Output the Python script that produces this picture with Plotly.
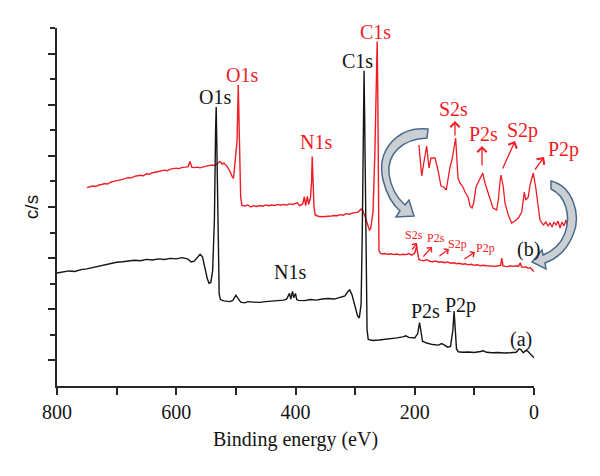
import plotly.graph_objects as go

# ---------------- data ----------------
# (a) black survey spectrum: binding energy (eV) and intensity (arb. units)
a_ev = [800, 790, 780, 770, 760, 750, 740, 730, 720, 710, 700, 690, 680, 670, 660, 650, 640, 630,
        620, 610, 600, 590, 580, 575, 570, 565, 560, 556, 552, 548, 545, 542, 539, 536, 534, 533,
        532, 530, 528, 526, 520, 510, 505, 500, 497, 492, 485, 480, 470, 460, 450, 440, 430, 420,
        415, 410, 408, 405, 403, 400, 398, 395, 385, 375, 365, 355, 345, 335, 325, 317, 312, 309,
        305, 300, 296, 293, 290, 288, 286, 285, 284, 282, 280, 278, 270, 260, 250, 240, 230, 220,
        215, 210, 200, 195, 192, 190, 187, 180, 170, 160, 155, 150, 145, 140, 136, 134, 132, 130,
        127, 120, 110, 100, 90, 85, 80, 70, 60, 50, 40, 30, 25, 22, 18, 13, 10, 5, 0]
a_int = [4.42, 4.45, 4.50, 4.48, 4.55, 4.58, 4.63, 4.68, 4.72, 4.80, 4.84, 4.86, 4.88, 4.92, 4.90,
         4.95, 4.93, 4.97, 4.95, 4.99, 4.97, 5.02, 4.96, 4.85, 4.88, 5.00, 5.15, 5.05, 4.60, 4.20,
         4.02, 4.05, 4.50, 6.50, 10.0, 10.91, 9.50, 6.00, 3.60, 3.38, 3.33, 3.30, 3.35, 3.55, 3.45,
         3.28, 3.25, 3.30, 3.28, 3.27, 3.30, 3.31, 3.34, 3.36, 3.40, 3.62, 3.40, 3.70, 3.45, 3.62,
         3.38, 3.35, 3.34, 3.38, 3.36, 3.40, 3.42, 3.40, 3.45, 3.52, 3.70, 3.76, 3.55, 3.10, 2.75,
         2.66, 3.20, 6.00, 10.5, 12.33, 10.5, 5.00, 2.20, 1.82, 1.78, 1.80, 1.82, 1.84, 1.88, 1.92,
         1.96, 1.90, 1.88, 2.05, 2.48, 2.20, 1.75, 1.68, 1.62, 1.60, 1.66, 1.60, 1.52, 1.55, 2.20,
         2.93, 2.20, 1.45, 1.34, 1.32, 1.33, 1.31, 1.35, 1.38, 1.32, 1.30, 1.31, 1.29, 1.30, 1.32,
         1.45, 1.42, 1.30, 1.40, 1.35, 1.22, 1.10]

# (b) red survey spectrum
b_ev = [750, 745, 740, 735, 730, 725, 720, 715, 710, 705, 700, 695, 690, 685, 680, 675, 670, 665,
        660, 655, 650, 645, 640, 635, 630, 625, 620, 615, 610, 605, 600, 595, 590, 585, 580, 577,
        574, 570, 565, 560, 555, 550, 545, 540, 535, 530, 527, 523, 520, 515, 510, 506, 504, 502,
        500, 498, 496, 494, 492, 490, 485, 480, 475, 470, 465, 460, 455, 450, 445, 440, 435, 430,
        425, 420, 415, 410, 405, 400, 397, 393, 388, 385, 383, 380, 378, 375, 373, 372, 371, 369,
        367, 362, 355, 350, 345, 340, 335, 330, 325, 320, 315, 310, 305, 300, 295, 290, 287, 283,
        279, 276, 274, 270, 267, 264, 263, 262, 261, 260, 258, 255, 250, 245, 240, 235, 230, 225,
        220, 215, 210, 205, 200, 197, 195, 193, 190, 185, 180, 175, 170, 165, 160, 155, 150, 145,
        140, 135, 130, 125, 120, 115, 110, 105, 100, 95, 90, 85, 80, 75, 70, 65, 60, 56, 54, 52,
        48, 44, 40, 35, 30, 26, 23, 21, 18, 14, 10, 6, 3, 0]
b_int = [7.76, 7.78, 7.82, 7.80, 7.86, 7.88, 7.92, 7.90, 7.97, 8.00, 8.02, 8.06, 8.08, 8.12, 8.15,
         8.14, 8.20, 8.22, 8.24, 8.22, 8.30, 8.28, 8.34, 8.36, 8.38, 8.42, 8.44, 8.42, 8.48, 8.50,
         8.52, 8.50, 8.55, 8.56, 8.58, 8.78, 8.56, 8.54, 8.56, 8.53, 8.58, 8.60, 8.62, 8.64, 8.62,
         8.70, 8.78, 8.68, 8.72, 8.60, 8.40, 8.18, 8.12, 8.60, 9.15, 9.60, 11.77, 9.50, 7.40, 7.06,
         7.04, 7.08, 7.00, 7.05, 7.02, 7.06, 7.03, 7.08, 7.05, 7.08, 7.06, 7.10, 7.07, 7.10, 7.08,
         7.12, 7.10, 7.14, 7.16, 7.05, 7.12, 7.40, 7.05, 7.42, 7.10, 7.35, 8.00, 8.97, 8.20, 7.00,
         6.69, 6.64, 6.62, 6.64, 6.63, 6.65, 6.67, 6.66, 6.70, 6.68, 6.74, 6.72, 6.76, 6.78, 6.80,
         6.92, 6.85, 6.60, 6.30, 6.10, 6.15, 6.80, 9.00, 12.5, 13.47, 11.5, 7.50, 5.30, 5.20, 5.16,
         5.18, 5.15, 5.17, 5.14, 5.16, 5.13, 5.15, 5.14, 5.18, 5.12, 5.20, 5.45, 5.20, 4.95, 4.92,
         4.90, 4.94, 4.88, 4.86, 4.89, 4.84, 4.86, 4.82, 4.85, 4.80, 4.82, 4.78, 4.80, 4.76, 4.78,
         4.74, 4.76, 4.72, 4.74, 4.70, 4.72, 4.70, 4.69, 4.70, 4.68, 4.70, 4.72, 5.00, 4.70, 4.68,
         4.67, 4.70, 4.68, 4.70, 4.68, 4.82, 4.66, 4.64, 4.66, 4.60, 4.62, 4.55, 4.48]

# (b) magnified inset of the 280-80 eV region
inset_ev = [271.1, 267.8, 264.7, 261.8, 259.0, 256.6, 251.8, 248.2, 244.6, 241.3, 238.2, 236.1,
            233.7, 231.3, 226.9, 224.1, 221.7, 218.1, 215.7, 212.0, 209.6, 207.2, 205.2, 202.4,
            198.8, 194.3, 191.6, 188.3, 184.3, 181.9, 177.5, 175.5, 173.5, 172.3, 169.5, 167.5,
            163.5, 159.4, 155.4, 151.4, 147.3, 145.8, 144.2, 142.5, 139.4, 137.3, 133.4, 130.5,
            127.3, 125.3, 121.3, 118.1, 115.7, 113.3, 110.8, 108.4, 106.0, 103.6, 101.2, 98.8,
            96.4, 94.0, 91.6, 89.2, 86.7, 83.1]
inset_int = [85, 54, 70, 84, 62, 72, 72, 60, 44, 43, 40, 52, 63, 70, 92, 52, 47, 43, 38, 33, 24,
             22, 27, 43, 50, 57, 47, 38, 27, 22, 20, 30, 48, 55, 43, 27, 15, 7, 9, 12, 18, 30, 38,
             30, 33, 45, 57, 43, 24, 10, 5, 8, 4, 7, 3, 8, 5, 9, 2, 8, 4, 10, 1, 8, 5, 8.5]

x_tick_vals = [800, 600, 400, 200, 0]
x_tick_text = ["800", "600", "400", "200", "0"]

# ---------------- styling ----------------
W, H = 600, 476
ML, MR, MT, MB = 57, 10, 28, 90
PW, PH = W - ML - MR, H - MT - MB
RED = "#ee1c24"
BLK = "#141414"
AX = "#262626"
SERIF = "Liberation Serif, Times New Roman, DejaVu Serif, serif"
SANS = "Liberation Sans, Arial, DejaVu Sans, sans-serif"


def px2paper(px, py):
    return (px - ML) / PW, (MT + PH - py) / PH


fig = go.Figure()
fig.add_trace(go.Scatter(x=b_ev, y=b_int, mode="lines", line=dict(color=RED, width=1.4),
                         xaxis="x", yaxis="y", showlegend=False, hoverinfo="skip"))
fig.add_trace(go.Scatter(x=a_ev, y=a_int, mode="lines", line=dict(color=BLK, width=1.4),
                         xaxis="x", yaxis="y", showlegend=False, hoverinfo="skip"))
fig.add_trace(go.Scatter(x=inset_ev, y=inset_int, mode="lines", line=dict(color=RED, width=1.3),
                         xaxis="x2", yaxis="y2", showlegend=False, hoverinfo="skip"))

main_right = (534 - ML) / PW
ix0, _ = px2paper(410, 0)
ix1, _ = px2paper(580, 0)
_, iy0 = px2paper(0, 230)
_, iy1 = px2paper(0, 130)

fig.update_layout(
    width=W, height=H,
    margin=dict(l=ML, r=MR, t=MT, b=MB, pad=0, autoexpand=False),
    paper_bgcolor="white", plot_bgcolor="white",
    font=dict(family=SERIF, size=20, color=BLK),
    xaxis=dict(domain=[0, main_right], range=[800, 0], showgrid=False, zeroline=False,
               automargin=False,
               showline=True, linecolor=AX, linewidth=2, ticks="outside", ticklen=7,
               tickwidth=1.5, tickcolor=AX, tickvals=x_tick_vals, ticktext=x_tick_text,
               tickfont=dict(size=20, family=SERIF, color=BLK),
               minor=dict(dtick=100, tick0=0, ticks="outside", ticklen=7, tickwidth=1.5,
                          tickcolor=AX, showgrid=False),
               title=dict(text="Binding energy (eV)", font=dict(size=20, family=SERIF),
                          standoff=10),
               anchor="y"),
    yaxis=dict(domain=[0, 1], range=[0, 14], showgrid=False, zeroline=False,
               automargin=False,
               showline=True, linecolor=AX, linewidth=2, ticks="outside", ticklen=7,
               tickwidth=1.5, tickcolor=AX, tickvals=[1, 3, 5, 7, 9, 11, 13],
               showticklabels=False,
               minor=dict(tickvals=[2, 4, 6, 8, 10, 12, 14], ticks="outside", ticklen=5,
                          tickwidth=1.5, tickcolor=AX, showgrid=False),
               title=dict(text="c/s", font=dict(size=19, family=SANS), standoff=4),
               anchor="x"),
    xaxis2=dict(domain=[ix0, ix1], range=[281.9, 77.1], visible=False, anchor="y2"),
    yaxis2=dict(domain=[iy0, iy1], range=[0, 100], visible=False, anchor="x2"),
)

# ---------------- text labels ----------------
labels = [
    ("O1s", BLK, 215, 97, 20), ("O1s", RED, 242, 75, 20), ("N1s", RED, 316, 142, 20),
    ("C1s", BLK, 357, 61, 20), ("C1s", RED, 375, 32, 20), ("N1s", BLK, 290, 272, 20),
    ("P2s", BLK, 425, 311, 20), ("P2p", BLK, 460, 305, 20), ("(a)", BLK, 521, 339, 20),
    ("(b)", BLK, 528, 250, 20),
    ("S2s", RED, 453, 109, 20), ("P2s", RED, 483, 134, 20), ("S2p", RED, 522, 130, 20),
    ("P2p", RED, 563, 149, 20),
    ("S2s", RED, 414, 235, 12), ("P2s", RED, 436, 238, 12), ("S2p", RED, 457, 244, 12),
    ("P2p", RED, 485, 248, 12),
]
for txt, col, cx, cy, fs in labels:
    xp, yp = px2paper(cx, cy)
    fig.add_annotation(x=xp, y=yp, xref="paper", yref="paper", text=txt, showarrow=False,
                       xanchor="center", yanchor="middle",
                       font=dict(size=fs, color=col, family=SERIF))

# arrows: (tail_px, tail_py, head_px, head_py, size)
arrows = [
    (455, 137, 455, 121, 1.0), (482, 167, 482, 146, 1.0), (502, 170, 515, 141, 1.0),
    (534, 171, 544, 157, 1.0),
    (411, 251, 417, 243, 0.7), (422, 258, 432, 247, 0.7), (438, 257, 449, 249, 0.7),
    (463, 260, 475, 252, 0.7),
]
for tx, ty, hx, hy, s in arrows:
    xp, yp = px2paper(hx, hy)
    fig.add_annotation(x=xp, y=yp, xref="paper", yref="paper", text="", showarrow=True,
                       ax=tx - hx, ay=ty - hy, arrowhead=4, arrowsize=1.4 * s,
                       arrowwidth=1.3, arrowcolor=RED, standoff=0, startstandoff=0)


# curved block arrows (decoration)
def path_from(points):
    out = []
    for cmd, coords in points:
        pts = []
        for i in range(0, len(coords), 2):
            xp, yp = px2paper(coords[i], coords[i + 1])
            pts.append(f"{xp:.5f},{yp:.5f}")
        out.append(cmd + " " + " ".join(pts))
    return " ".join(out) + " Z"


left_arrow = [
    ("M", [428, 129]),
    ("C", [398, 126, 376, 150, 383, 180]),
    ("C", [387, 196, 393, 205, 400, 211]),
    ("L", [396, 217]), ("L", [414, 216]), ("L", [409, 200]), ("L", [405, 205]),
    ("C", [397, 198, 391, 188, 389, 174]),
    ("C", [387, 154, 402, 139, 427, 138]),
]
right_arrow = [
    ("M", [551, 181]),
    ("C", [572, 186, 582, 214, 573, 235]),
    ("C", [567, 250, 556, 259, 545, 263]),
    ("L", [546, 269]), ("L", [532, 262]), ("L", [542, 250]), ("L", [543, 255]),
    ("C", [553, 251, 561, 244, 565, 233]),
    ("C", [571, 216, 566, 196, 551, 189]),
]
for pth in (left_arrow, right_arrow):
    fig.add_shape(type="path", path=path_from(pth), xref="paper", yref="paper",
                  fillcolor="#c9cfd3", line=dict(color="#4a6a8c", width=1.5), layer="above")

fig.write_html("out.html", config={"displayModeBar": False},
               post_script="document.body.style.margin='0';document.body.style.padding='0';")
